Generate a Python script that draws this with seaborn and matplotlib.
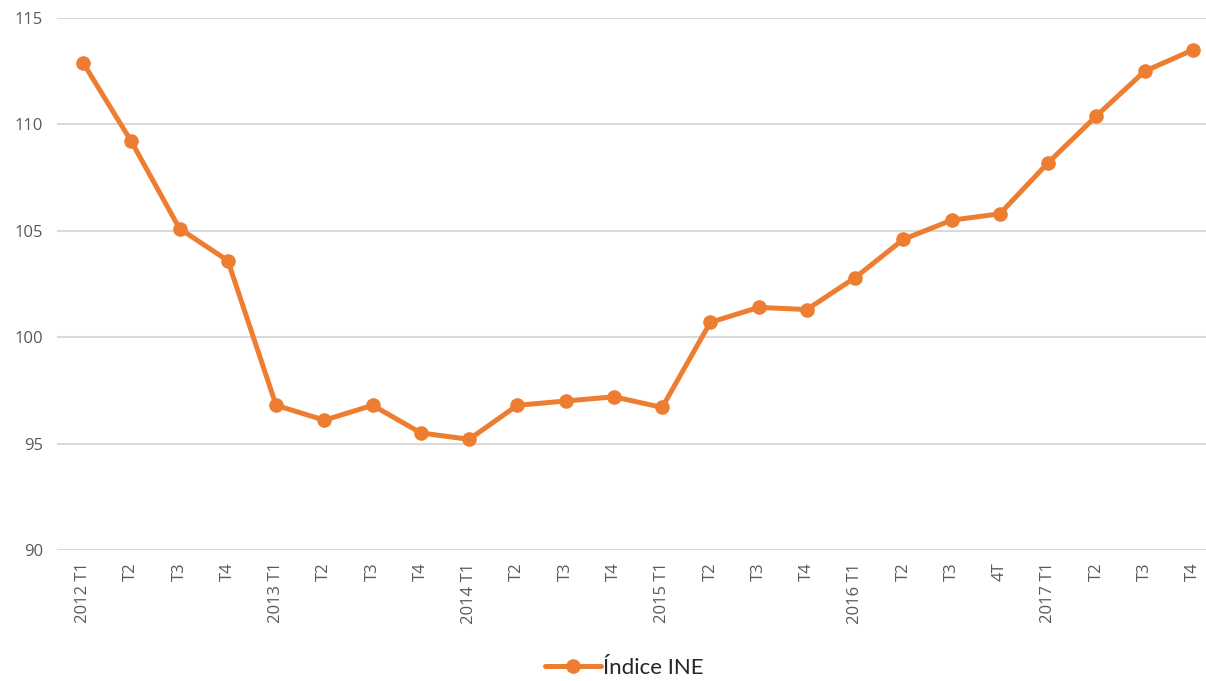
import matplotlib
matplotlib.use("Agg")
import matplotlib.pyplot as plt
import seaborn as sns
import numpy as np
import pandas as pd

# quarterly index values
quarters = ["2012 T1", "T2", "T3", "T4",
            "2013 T1", "T2", "T3", "T4",
            "2014 T1", "T2", "T3", "T4",
            "2015 T1", "T2", "T3", "T4",
            "2016 T1", "T2", "T3", "4T",
            "2017 T1", "T2", "T3", "T4"]
indice_ine = [112.9, 109.2, 105.1, 103.6,
              96.8, 96.1, 96.8, 95.5,
              95.2, 96.8, 97.0, 97.2,
              96.7, 100.7, 101.4, 101.3,
              102.8, 104.6, 105.5, 105.8,
              108.2, 110.4, 112.5, 113.5]
y_ticks = [90, 95, 100, 105, 110, 115]

df = pd.DataFrame({"pos": np.arange(len(quarters)), "valor": indice_ine})

sns.set_theme(style="white")
plt.rcParams["font.family"] = ["Open Sans", "DejaVu Sans"]

fig = plt.figure(figsize=(12.06, 6.81), dpi=100)
ax = fig.add_axes([57 / 1206, 1 - 550 / 681, 1 - 57 / 1206, (550 - 18) / 681])

orange = "#ED7D31"
sns.lineplot(data=df, x="pos", y="valor", ax=ax, color=orange, linewidth=3.6,
             marker="o", markersize=10.5, markeredgewidth=0, sort=False,
             label="Índice INE", legend=False, zorder=3)

ax.set_ylim(90, 115)
ax.set_xlim(-0.54, len(quarters) - 1 + 0.27)
ax.set_yticks(y_ticks)
ax.set_yticklabels([str(t) for t in y_ticks])
ax.set_xticks(df["pos"])
ax.set_xticklabels(quarters, rotation=90)
ax.tick_params(axis="both", length=0, labelsize=12, colors="#595959")
ax.tick_params(axis="y", pad=10)
ax.tick_params(axis="x", pad=9)
ax.set_xlabel("")
ax.set_ylabel("")
ax.grid(axis="y", color="#D9D9D9", linewidth=1.5)
ax.set_axisbelow(True)
for s in ax.spines.values():
    s.set_visible(False)

handles, labels = ax.get_legend_handles_labels()
fig.legend(handles, labels, loc="center", bbox_to_anchor=(0.5175, 1 - 668 / 681),
           frameon=False, handlelength=2.5, handletextpad=0.1,
           prop={"family": ["Lato", "DejaVu Sans"], "size": 16})

fig.savefig("out.png", dpi=100)
